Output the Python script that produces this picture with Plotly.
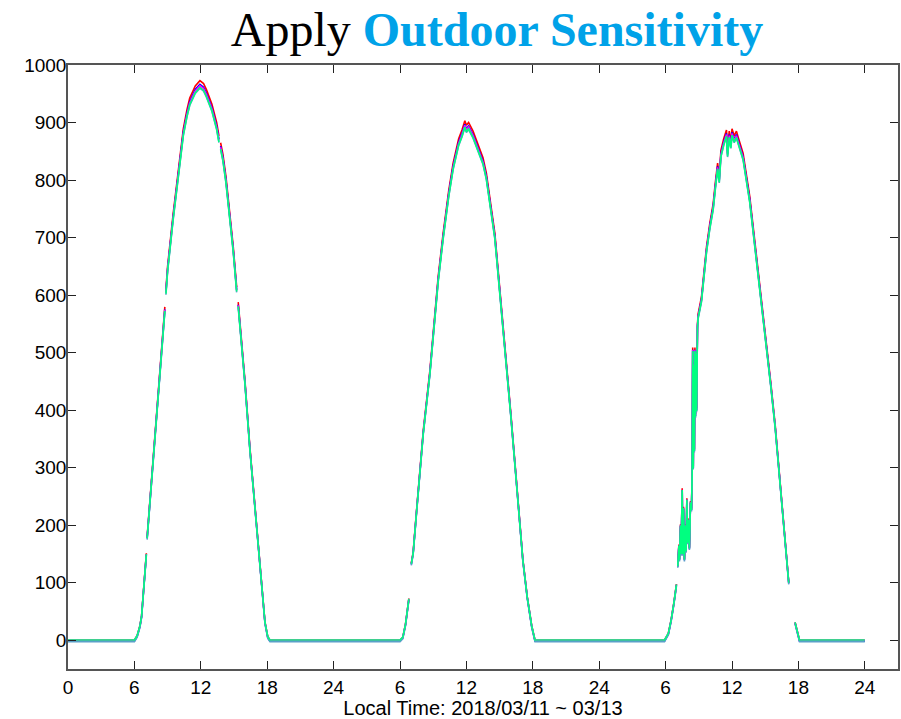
import plotly.graph_objects as go

# ---------------- data ----------------
# local time (h) and irradiance (W/m2); None = data gap
local_d1 = [0.0, 6.0, 6.25, 6.5, 6.65, 7.0, 7.08, 7.11, 7.15, 7.5, 7.7, 8.0, 8.5, 8.75, 8.8,
            8.85, 9.0, 9.5, 9.97, 10.42, 10.75, 11.0, 11.5, 11.92, 12.25, 12.5, 13.0, 13.43,
            13.64, 13.7, 13.79, 14.0, 14.27, 14.5, 14.93, 15.24, 15.3, 15.38, 15.6, 15.99,
            16.44, 16.9, 17.34, 17.55, 17.8, 18.05, 18.25]
irr_d1 = [0, 0, 8, 25, 42, 120, 150, None, 178, 262, 314, 395, 510, 575, None,
          605, 645, 735, 806, 882, 915, 935, 956, 965, 960, 950, 925, 893,
          870, None, 858, 838, 800, 760, 679, 609, None, 583, 535, 448,
          332, 227, 123, 75, 31, 6, 0]

local_d2 = [6.0, 6.25, 6.5, 6.8, 6.9, 7.02, 7.19, 7.5, 8.1, 8.7, 9.45, 9.9, 10.4, 10.8,
            11.3, 11.6, 11.86, 12.0, 12.2, 12.6, 13.2, 13.5, 13.8, 14.2, 14.57, 15.0,
            15.5, 15.8, 16.0, 16.5, 17.1, 17.5, 17.9, 18.2]
irr_d2 = [0, 5, 28, 72, None, 133, 152, 225, 361, 465, 627, 702, 775, 823,
          865, 880, 896, 888, 893, 878, 847, 832, 806, 755, 702, 610,
          505, 445, 395, 280, 140, 75, 25, 0]

local_d3 = [5.9, 6.25, 6.5, 6.75, 6.98, 7.05, 7.1, 7.2, 7.25, 7.35, 7.4, 7.5, 7.55, 7.62,
            7.7, 7.78, 7.85, 7.92, 8.0, 8.08, 8.15, 8.25, 8.34, 8.4, 8.45, 8.5, 8.55, 8.6,
            8.65, 8.7, 8.75, 8.8, 8.88, 8.94, 9.24, 9.5, 9.7, 10.0, 10.3, 10.5, 10.7, 10.85,
            11.0, 11.25, 11.5, 11.6, 11.75, 11.9, 12.0, 12.2, 12.4, 12.6, 13.0, 13.6, 14.0,
            14.5, 14.8, 15.0, 15.5, 15.9, 16.0, 16.5, 17.0, 17.13, 17.4, 17.7, 18.0, 18.1,
            24.0]
irr_d3 = [0, 12, 35, 65, 97, None, 129, 165, 140, 200, 150, 262, 150, 230,
          140, 200, 155, 245, 170, 210, 160, 240, 227, 291, 505, 300, 480, 330,
          505, 390, 500, 400, 545, 563, 592, 640, 679, 720, 753, 790, 823, 800,
          845, 865, 880, 845, 878, 860, 882, 870, 878, 865, 840, 766, 700,
          615, 569, 535, 445, 372, 350, 240, 130, 100, None, 31, 5, 0,
          0]

day_offsets = [0, 24, 48]

# per-sensor outdoor sensitivity (gain) and dark offset
sensor_names = ["Sensor 1", "Sensor 2", "Sensor 3", "Sensor 4", "Sensor 5"]
sensor_colors = ["#FF0000", "#0000FF", "#FF00FF", "#5AA0C8", "#00FF80"]
sensor_gain = [1.008, 1.003, 0.999, 0.997, 0.995]
sensor_offset = [0.0, -1.5, 0.0, -2.5, 0.5]

x_tickvals = [0, 6, 12, 18, 24, 30, 36, 42, 48, 54, 60, 66, 72]
x_ticktext = ["0", "6", "12", "18", "24", "6", "12", "18", "24", "6", "12", "18", "24"]
y_tickvals = [0, 100, 200, 300, 400, 500, 600, 700, 800, 900, 1000]

# ---------------- build ----------------
hours = []
base = []
for off, lt, v in zip(day_offsets, [local_d1, local_d2, local_d3], [irr_d1, irr_d2, irr_d3]):
    hours += [off + t for t in lt]
    base += v

fig = go.Figure()
for name, col, g, o in zip(sensor_names, sensor_colors, sensor_gain, sensor_offset):
    y = [None if b is None else b * g + o for b in base]
    fig.add_trace(go.Scatter(x=hours, y=y, mode="lines", name=name,
                             line=dict(color=col, width=1.6), connectgaps=False,
                             showlegend=False))

tick_font = dict(family="Arial, Liberation Sans, sans-serif", size=19, color="black")
xtitle_font = dict(family="Arial, Liberation Sans, sans-serif", size=20, color="black")

fig.update_layout(
    width=901, height=719,
    margin=dict(l=68, r=3, t=65, b=50),
    paper_bgcolor="white", plot_bgcolor="white",
    title=dict(
        text="Apply <b><span style='color:#00A2E8'>Outdoor Sensitivity</span></b>",
        font=dict(family="Times New Roman, Liberation Serif, serif", size=48, color="black"),
        x=497 / 901, xanchor="center", xref="container",
        y=1 - 29 / 719, yanchor="middle", yref="container"),
    xaxis=dict(range=[0, 75], tickvals=x_tickvals, ticktext=x_ticktext,
               ticks="inside", ticklen=8, tickwidth=1.2, tickcolor="#222",
               showline=True, linecolor="#555", linewidth=1.5, mirror="ticks",
               showgrid=False, zeroline=False, tickfont=tick_font,
               title=dict(text="Local Time: 2018/03/11 ~ 03/13", font=xtitle_font, standoff=0),
               automargin=False),
    yaxis=dict(range=[-50, 1000], tickvals=y_tickvals,
               ticks="inside", ticklen=8, tickwidth=1.2, tickcolor="#222",
               showline=True, linecolor="#555", linewidth=1.5, mirror="ticks",
               showgrid=False, zeroline=False, tickfont=tick_font,
               ticklabelstandoff=-4, automargin=False),
)

fig.write_html("out.html", config={"displayModeBar": False},
               post_script="document.body.style.margin='0';")
